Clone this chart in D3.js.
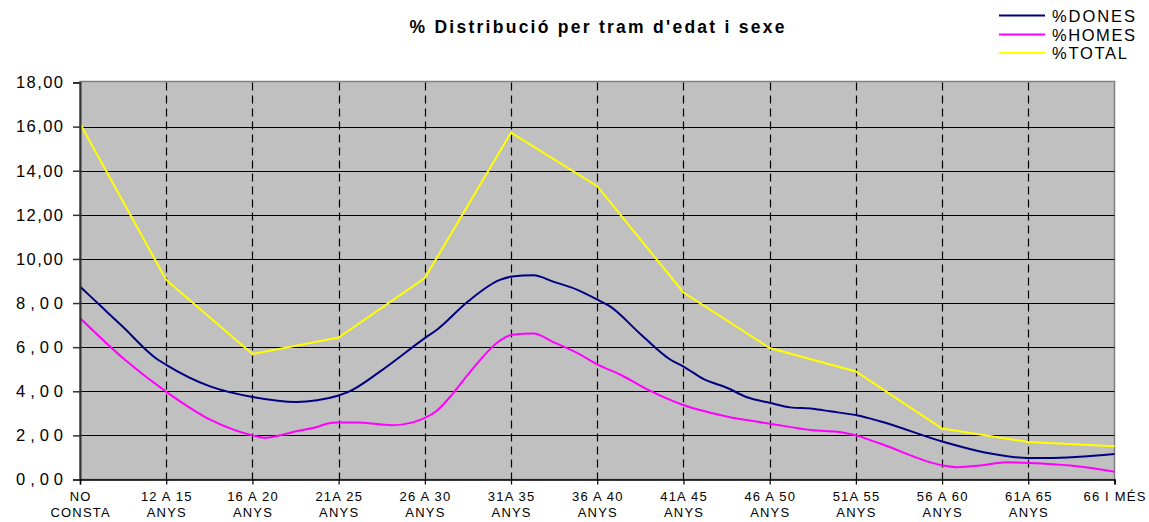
<!DOCTYPE html>
<html><head><meta charset="utf-8">
<script src="https://cdn.jsdelivr.net/npm/d3@7"></script>
<style>
body{margin:0;background:#fff;}
svg{display:block;font-family:"Liberation Sans",Arial,sans-serif;}
</style>
</head><body>
<svg id="c" width="1149" height="522"></svg>
<script>
// ---- data ----
const categories = [
  ["NO","CONSTA"],["12 A 15","ANYS"],["16 A 20","ANYS"],["21A 25","ANYS"],
  ["26 A 30","ANYS"],["31A 35","ANYS"],["36 A 40","ANYS"],["41A 45","ANYS"],
  ["46 A 50","ANYS"],["51A 55","ANYS"],["56 A 60","ANYS"],["61A 65","ANYS"],["66 I MÉS"]
];
const yTicks = [0,2,4,6,8,10,12,14,16,18];
const seriesNames = ["%DONES","%HOMES","%TOTAL"];
const seriesColors = ["#000080","#FF00FF","#FFFF00"];

const totalValues = [16.14, 9.05, 5.69, 6.44, 9.13, 15.73, 13.3, 8.48, 5.96, 4.9, 2.31, 1.7, 1.51];

// positions in category units (0 = "NO CONSTA", 12 = "66 I MÉS")
const donesPos = [0,0.25,0.5,0.88,1.0,1.51,2.0,2.51,2.75,2.99,3.1,3.5,4.0,4.14,4.5,4.87,5.01,5.26,5.49,5.77,6.01,6.14,6.51,6.85,7.01,7.23,7.51,7.73,8.01,8.24,8.5,8.7,9.01,9.28,10.02,10.48,11.0,11.22,12.0];
const donesValues = [8.75,7.83,6.91,5.5,5.2,4.22,3.74,3.51,3.59,3.8,3.95,4.95,6.41,6.79,8.07,9.05,9.2,9.26,8.97,8.6,8.14,7.87,6.56,5.43,5.1,4.56,4.15,3.74,3.47,3.27,3.21,3.09,2.91,2.64,1.7,1.24,0.98,0.98,1.16];

const homesPos = [0,0.5,1.01,1.28,1.51,1.78,2.01,2.14,2.36,2.51,2.75,2.86,2.99,3.21,3.62,3.86,4.0,4.14,4.33,4.53,4.87,5.01,5.26,5.49,5.77,6.01,6.27,6.61,6.99,7.5,8.01,8.51,8.78,9.01,9.28,10.02,10.17,10.44,10.75,11.02,11.49,12.0];
const homesValues = [7.32,5.5,3.95,3.24,2.71,2.26,1.99,1.89,2.04,2.19,2.38,2.53,2.59,2.59,2.46,2.59,2.79,3.12,3.92,4.9,6.29,6.56,6.62,6.23,5.73,5.2,4.75,4.03,3.39,2.86,2.53,2.23,2.17,1.99,1.63,0.63,0.56,0.63,0.78,0.75,0.63,0.35];

// ---- chart ----
const svg = d3.select("#c");
const L = 80, R = 1114.5, T = 82.5, B = 479.5;
const x = d3.scaleLinear().domain([0, categories.length - 1]).range([L, R]);
const y = d3.scaleLinear().domain([0, 18]).range([B, T]);

// plot background
svg.append("rect").attr("x", L).attr("y", T - 1).attr("width", R - L).attr("height", B - T + 1)
  .attr("fill", "#c0c0c0").attr("stroke", "#808080").attr("stroke-width", 1.5);

// horizontal gridlines
svg.append("g").selectAll("line").data(yTicks.filter(d => d > 0 && d < 18)).join("line")
  .attr("x1", L).attr("x2", R)
  .attr("y1", d => Math.round(y(d)) + 0.5).attr("y2", d => Math.round(y(d)) + 0.5)
  .attr("stroke", "#000").attr("stroke-width", 1.2);

// vertical dashed gridlines
svg.append("g").selectAll("line").data(d3.range(1, categories.length - 1)).join("line")
  .attr("x1", d => Math.round(x(d)) + 0.5).attr("x2", d => Math.round(x(d)) + 0.5)
  .attr("y1", T).attr("y2", B)
  .attr("stroke", "#000").attr("stroke-width", 1.2).attr("stroke-dasharray", "8,5");

// clip
svg.append("clipPath").attr("id", "clip").append("rect")
  .attr("x", L).attr("y", T - 2).attr("width", R - L + 1).attr("height", B - T + 3);

const lineGen = d3.line().x(d => x(d[0])).y(d => y(d[1]));
const gLines = svg.append("g").attr("clip-path", "url(#clip)");
const dones = donesPos.map((p, i) => [p, donesValues[i]]);
const homes = homesPos.map((p, i) => [p, homesValues[i]]);
const total = totalValues.map((v, i) => [i, v]);

gLines.append("path").datum(dones).attr("d", lineGen.curve(d3.curveMonotoneX))
  .attr("fill", "none").attr("stroke", seriesColors[0]).attr("stroke-width", 2);
gLines.append("path").datum(homes).attr("d", lineGen.curve(d3.curveMonotoneX))
  .attr("fill", "none").attr("stroke", seriesColors[1]).attr("stroke-width", 2);
gLines.append("path").datum(total).attr("d", lineGen.curve(d3.curveLinear))
  .attr("fill", "none").attr("stroke", seriesColors[2]).attr("stroke-width", 2);

// y axis
const yAxis = svg.append("g").attr("transform", `translate(${L},0)`)
  .call(d3.axisLeft(y).tickValues(yTicks).tickSize(7).tickPadding(10)
    .tickFormat(d => d.toFixed(2).replace(".", ",")));
yAxis.select(".domain").attr("stroke", "#333").attr("stroke-width", 2);
yAxis.selectAll(".tick line").attr("stroke", "#333").attr("stroke-width", 1.5);
yAxis.selectAll(".tick text").attr("font-size", 16.5).attr("fill", "#000")
  .attr("font-family", "'Liberation Sans',Arial,sans-serif")
  .attr("textLength", 47).attr("lengthAdjust", "spacing");

// x axis
const xAxis = svg.append("g").attr("transform", `translate(0,${B})`)
  .call(d3.axisBottom(x).tickValues(d3.range(categories.length)).tickSize(5).tickFormat(""));
xAxis.select(".domain").attr("stroke", "#000").attr("stroke-width", 1.5);
xAxis.selectAll(".tick line").attr("stroke", "#000").attr("stroke-width", 1.2);

const xl = svg.append("g").attr("font-size", 13).attr("fill", "#000")
  .attr("text-anchor", "middle").style("letter-spacing", "1.2px");
categories.forEach((c, i) => {
  c.forEach((s, j) => {
    let cx = x(i) + 0.6;
    if (i === categories.length - 1) cx = Math.min(cx, 1149 - 34);
    xl.append("text").attr("x", cx).attr("y", 501 + j * 15.5).text(s);
  });
});

// title
svg.append("text").attr("x", 597).attr("y", 33).attr("text-anchor", "middle")
  .attr("font-size", 17.5).attr("font-weight", "bold")
  .attr("textLength", 375).attr("lengthAdjust", "spacing")
  .text("% Distribució per tram d'edat i sexe");

// legend
const legY = [15.5, 34.5, 53];
const legW = [83, 83, 75];
const leg = svg.append("g");
seriesNames.forEach((n, i) => {
  leg.append("line").attr("x1", 999).attr("x2", 1045).attr("y1", legY[i]).attr("y2", legY[i])
    .attr("stroke", seriesColors[i]).attr("stroke-width", 2);
  leg.append("text").attr("x", 1052).attr("y", legY[i] + 6).attr("font-size", 16.5)
    .attr("textLength", legW[i]).attr("lengthAdjust", "spacing").text(n);
});
</script>
</body></html>
